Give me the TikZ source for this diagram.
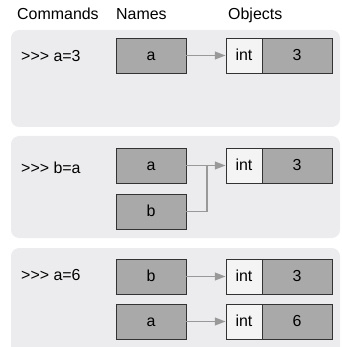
\documentclass[tikz,border=0pt]{standalone}
\usepackage{fontspec}
\setmainfont{Liberation Sans}
\usetikzlibrary{arrows.meta}
\definecolor{panelgray}{HTML}{ECECEE}
\definecolor{namegray}{HTML}{A9A9A9}
\definecolor{typegray}{HTML}{F4F4F4}
\definecolor{ptrgray}{HTML}{999999}
\definecolor{edgegray}{HTML}{333333}
\tikzset{
   panel/.style={fill=panelgray, draw=none, rounded corners=7},
   namebox/.style={rectangle, draw=edgegray, line width=0.7pt, fill=namegray,
                   minimum width=2.1cm, minimum height=1.05cm, inner sep=0pt,
                   text height=1.5ex, text depth=0pt},
   typebox/.style={namebox, fill=typegray, minimum width=1.08cm},
   valbox/.style={namebox},
   cmd/.style={anchor=base west, inner sep=0pt},
   ptr/.style={draw=ptrgray, line width=1.4pt, -{Triangle[length=3.2mm,width=2.3mm]}},
   link/.style={draw=ptrgray, line width=1.4pt}
}

\begin{document}
\begin{tikzpicture}[x=0.03cm, y=-0.03cm, font=\fontsize{13.6}{16}\selectfont]
\useasboundingbox (0,0) rectangle (341,347);
\clip (0,0) rectangle (341,347);
% panels
\path[panel] (11,30) rectangle (340,127);
\path[panel] (11,136) rectangle (340,238);
\path[panel] (11,248) rectangle (340,370);
% headings
\foreach \X/\T in {17/Commands,116/Names,228/Objects}{
	\node[cmd] (h\T) at (\X,20) {\T};
}
% a=3
\node[cmd] (c1) at (21,62) {>{}>{}> a=3};
\node[namebox] (na1) at (151,55.5) {a};
\node[typebox] (t1) at (244,55.5) {int};
\node[valbox] (v1) at (297,55.5) {3};
\draw[ptr] (na1.east) -- (t1.west);
% b=a
\node[cmd] (c2) at (21,173) {>{}>{}> b=a};
\node[namebox] (na2) at (151,165.5) {a};
\node[namebox] (nb2) at (151,211.5) {b};
\node[typebox] (t2) at (244,165.5) {int};
\node[valbox] (v2) at (297,165.5) {3};
\coordinate (j2) at (207,165.5);
\draw[ptr] (na2.east) -- (t2.west);
\draw[link] (nb2.east) -| (j2);
% a=6
\node[cmd] (c3) at (21,280) {>{}>{}> a=6};
\node[namebox] (nb3) at (151,276.5) {b};
\node[namebox] (na3) at (151,321.5) {a};
\node[typebox] (t3) at (244,276.5) {int};
\node[valbox] (v3) at (297,276.5) {3};
\node[typebox] (t4) at (244,321.5) {int};
\node[valbox] (v4) at (297,321.5) {6};
\draw[ptr] (nb3.east) -- (t3.west);
\draw[ptr] (na3.east) -- (t4.west);
\end{tikzpicture}
\end{document}
